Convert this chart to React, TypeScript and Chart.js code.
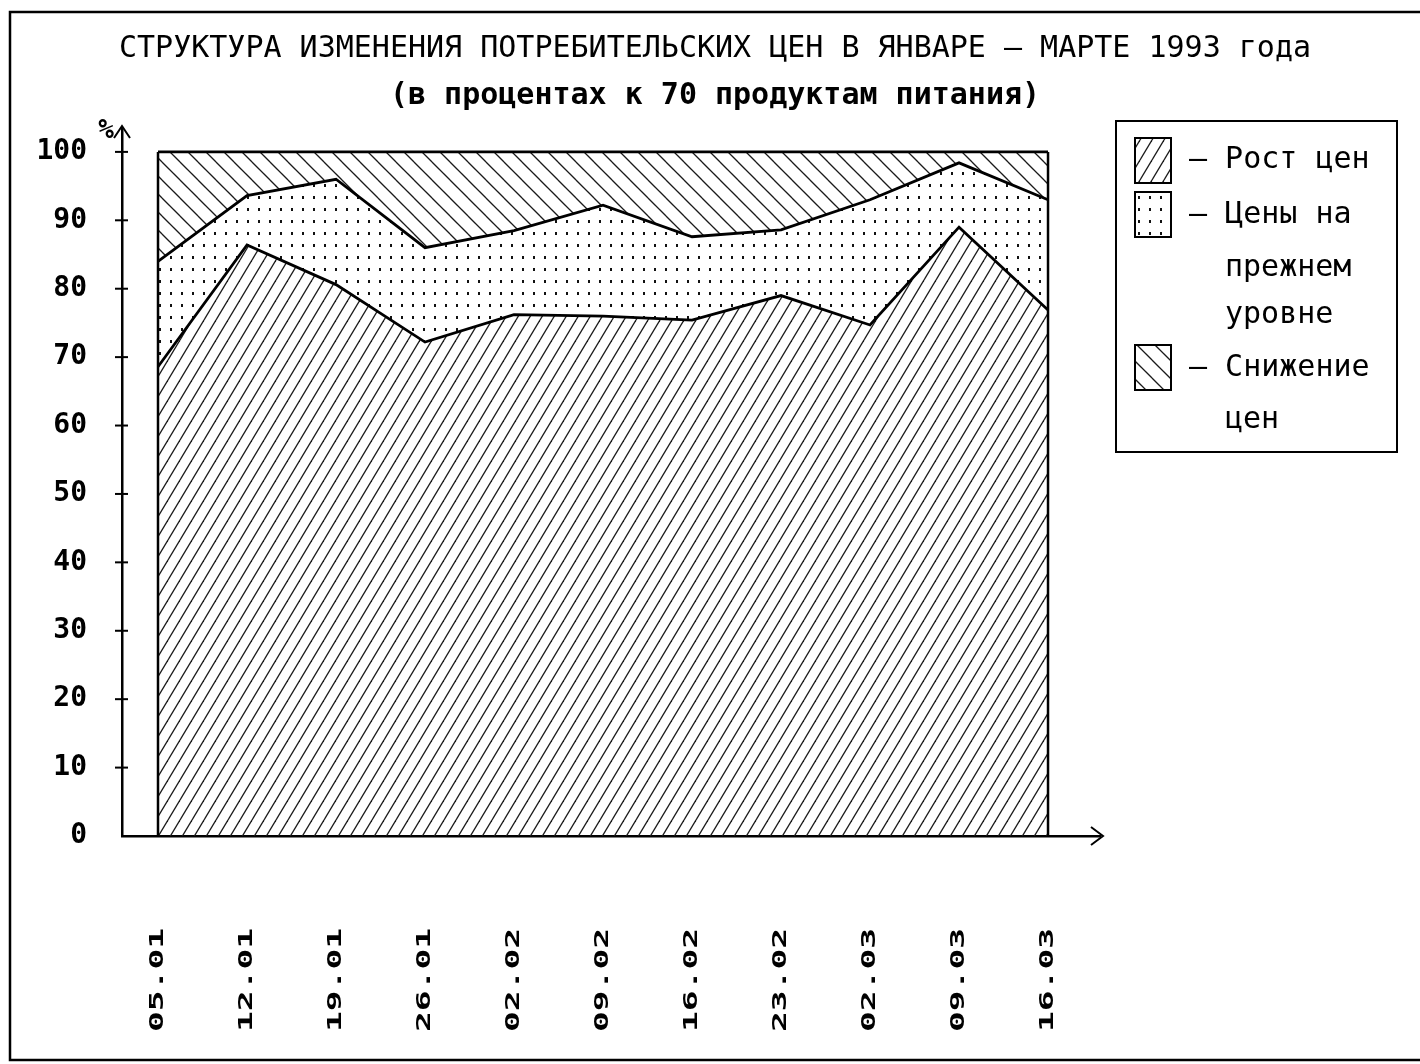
import React, { useEffect, useRef } from "react";
import { Chart, registerables } from "chart.js";
Chart.register(...registerables);

// ---- data ----
const categories = ["05.01", "12.01", "19.01", "26.01", "02.02", "09.02", "16.02", "23.02", "02.03", "09.03", "16.03"];
const growth = [68.6, 86.4, 80.6, 72.2, 76.2, 76.0, 75.4, 79.0, 74.7, 89.0, 76.9];
const unchanged = [15.4, 7.2, 15.4, 13.8, 12.3, 16.2, 12.2, 9.6, 18.3, 9.4, 16.1];
const decline = [16.0, 6.4, 4.0, 14.0, 11.5, 7.8, 12.4, 11.4, 7.0, 1.6, 7.0];
const yTicks = [0, 10, 20, 30, 40, 50, 60, 70, 80, 90, 100];
const seriesNames = ["Рост цен", "Цены на прежнем уровне", "Снижение цен"];
const legendLines = [["Рост цен"], ["Цены на", "прежнем", "уровне"], ["Снижение", "цен"]];
const titleLine1 = "СТРУКТУРА ИЗМЕНЕНИЯ ПОТРЕБИТЕЛЬСКИХ ЦЕН В ЯНВАРЕ – МАРТЕ 1993 года";
const titleLine2 = "(в процентах к 70 продуктам питания)";
const yUnit = "%";

const FONT = "'DejaVu Sans Mono', 'Liberation Mono', monospace";

function makeHatch(dir: "/" | "\\", w: number, h: number): CanvasPattern {
  const c = document.createElement("canvas");
  c.width = w;
  c.height = h;
  const g = c.getContext("2d")!;
  g.strokeStyle = "#1a1a1a";
  g.lineWidth = 1.3;
  const offs = [[0, 0], [w, 0], [-w, 0], [0, h], [0, -h]];
  for (const [ox, oy] of offs) {
    g.beginPath();
    if (dir === "/") {
      g.moveTo(ox, h + oy);
      g.lineTo(w + ox, oy);
    } else {
      g.moveTo(ox, oy);
      g.lineTo(w + ox, h + oy);
    }
    g.stroke();
  }
  return g.createPattern(c, "repeat")!;
}

function makeDots(w: number, h: number): CanvasPattern {
  const c = document.createElement("canvas");
  c.width = w;
  c.height = h;
  const g = c.getContext("2d")!;
  g.fillStyle = "#111";
  g.fillRect(5, 4, 2, 3);
  return g.createPattern(c, "repeat")!;
}

export default function App() {
  const ref = useRef<HTMLCanvasElement | null>(null);

  useEffect(() => {
    const canvas = ref.current!;
    const patGrowth = makeHatch("/", 12, 20);
    const patSame = makeDots(11, 12);
    const patDecline = makeHatch("\\", 18, 18);
    const patterns = [patGrowth, patSame, patDecline];

    const decor = {
      id: "decor",
      afterDatasetsDraw(chart: any) {
        const ctx = chart.ctx as CanvasRenderingContext2D;
        const xs = chart.scales.x;
        const ys = chart.scales.y;
        ctx.save();
        ctx.strokeStyle = "#000";
        ctx.lineWidth = 2.5;
        const x0 = xs.getPixelForValue(0);
        const x1 = xs.getPixelForValue(categories.length - 1);
        const yb = ys.getPixelForValue(0);
        const yt = ys.getPixelForValue(100);
        ctx.beginPath();
        ctx.moveTo(x0, yb);
        ctx.lineTo(x0, yt);
        ctx.moveTo(x1, yb);
        ctx.lineTo(x1, yt);
        ctx.stroke();
        ctx.restore();
      },
      afterDraw(chart: any) {
        const ctx = chart.ctx as CanvasRenderingContext2D;
        const xs = chart.scales.x;
        const ys = chart.scales.y;
        const ca = chart.chartArea;
        ctx.save();
        ctx.strokeStyle = "#000";
        ctx.fillStyle = "#000";
        // outer frame
        ctx.lineWidth = 2.5;
        ctx.strokeRect(10, 12, 1440, 1048);
        // y axis arrow
        ctx.lineWidth = 2;
        ctx.beginPath();
        ctx.moveTo(ca.left, ca.top);
        ctx.lineTo(ca.left, ca.top - 4);
        ctx.moveTo(ca.left - 8, ca.top + 8);
        ctx.lineTo(ca.left, ca.top - 4);
        ctx.lineTo(ca.left + 8, ca.top + 8);
        ctx.stroke();
        ctx.font = `bold 26px ${FONT}`;
        ctx.textAlign = "right";
        ctx.textBaseline = "middle";
        ctx.fillText(yUnit, ca.left - 8, ca.top + 1);
        // x axis arrow
        ctx.beginPath();
        ctx.moveTo(ca.right - 9, ca.bottom - 9);
        ctx.lineTo(ca.right + 3, ca.bottom);
        ctx.lineTo(ca.right - 9, ca.bottom + 9);
        ctx.stroke();
        // y tick marks crossing the axis
        for (const v of yTicks) {
          if (v === 0) continue;
          const y = ys.getPixelForValue(v);
          ctx.beginPath();
          ctx.moveTo(ca.left - 7, y);
          ctx.lineTo(ca.left + 6, y);
          ctx.stroke();
        }
        // x tick labels (rotated, stretched)
        ctx.font = `bold 19px ${FONT}`;
        ctx.textAlign = "left";
        ctx.textBaseline = "middle";
        categories.forEach((lab, i) => {
          const x = xs.getPixelForValue(i);
          ctx.save();
          ctx.translate(x, 1032);
          ctx.rotate(-Math.PI / 2);
          ctx.scale(1.82, 1);
          ctx.fillText(lab, 0, 0);
          ctx.restore();
        });
        // legend
        ctx.lineWidth = 2;
        ctx.strokeRect(1116, 121, 281, 331);
        const swY = [138, 192, 345];
        const textY = [[160], [215, 268, 315], [368, 420]];
        ctx.font = `30px ${FONT}`;
        ctx.textAlign = "left";
        ctx.textBaseline = "middle";
        for (let k = 0; k < 3; k++) {
          ctx.fillStyle = patterns[k];
          ctx.fillRect(1135, swY[k], 36, 45);
          ctx.strokeRect(1135, swY[k], 36, 45);
          ctx.fillStyle = "#000";
          legendLines[k].forEach((t, j) => {
            const txt = j === 0 ? "– " + t : t;
            const x = j === 0 ? 1189 : 1225;
            ctx.fillText(txt, x, textY[k][j]);
          });
        }
        ctx.restore();
      },
    };

    const values = [growth, unchanged, decline];
    const chart = new Chart(canvas, {
      type: "line",
      data: {
        datasets: values.map((arr, k) => ({
          label: seriesNames[k],
          data: arr.map((v, i) => ({ x: i, y: v })),
          backgroundColor: patterns[k],
          borderColor: "#000",
          borderWidth: 2.8,
          pointRadius: 0,
          tension: 0,
          fill: k === 0 ? "origin" : "-1",
        })),
      },
      options: {
        responsive: false,
        animation: false,
        devicePixelRatio: 1,
        layout: { padding: { left: 10, right: 0, top: 0, bottom: 0 } },
        plugins: {
          legend: { display: false },
          tooltip: { enabled: false },
          title: {
            display: true,
            text: titleLine1,
            color: "#000",
            font: { family: FONT, size: 30, weight: "normal", lineHeight: 1.2 },
            padding: { top: 31, bottom: 8 },
          },
          subtitle: {
            display: true,
            text: titleLine2,
            color: "#000",
            font: { family: FONT, size: 30, weight: "bold", lineHeight: 1.2 },
            padding: { top: 3, bottom: 16 },
          },
        },
        scales: {
          x: {
            type: "linear",
            min: -0.4045,
            max: 10.584,
            grid: { display: false },
            ticks: { display: false },
            border: { display: true, color: "#000", width: 2.5 },
            afterFit: (s: any) => {
              s.height = 228;
            },
          },
          y: {
            type: "linear",
            stacked: true,
            min: 0,
            max: 103.2,
            grid: { display: false },
            border: { display: true, color: "#000", width: 2.5 },
            ticks: {
              color: "#000",
              padding: 27,
              font: { family: FONT, size: 28, weight: "bold" },
            },
            afterBuildTicks: (s: any) => {
              s.ticks = yTicks.map((v) => ({ value: v }));
            },
            afterFit: (s: any) => {
              s.width = 112;
            },
          },
          legendSpace: {
            type: "linear",
            position: "right",
            display: true,
            grid: { display: false },
            ticks: { display: false },
            border: { display: false },
            afterFit: (s: any) => {
              s.width = 320;
            },
          },
        },
      },
      plugins: [decor],
    } as any);
    return () => chart.destroy();
  }, []);

  return (
    <div style={{ position: "absolute", left: 0, top: 0, width: 1420, height: 1064, background: "#fff" }}>
      <canvas ref={ref} width={1420} height={1064} style={{ display: "block" }} />
    </div>
  );
}
